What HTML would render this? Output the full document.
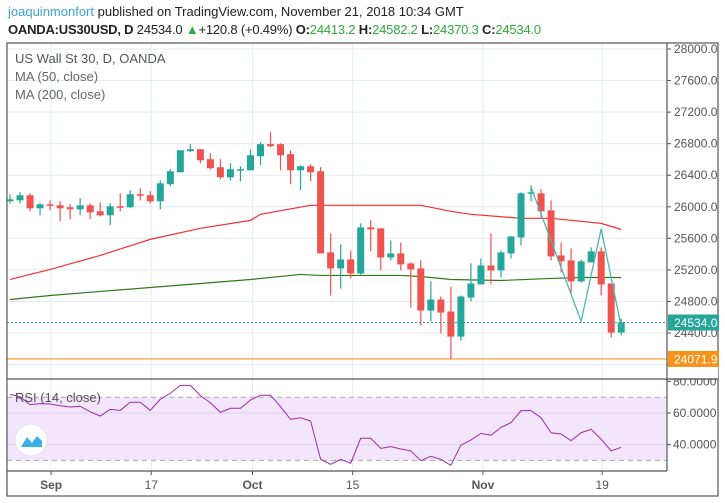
<!DOCTYPE html>
<html><head><meta charset="utf-8">
<style>
body{margin:0;background:#fff;font-family:"Liberation Sans",sans-serif;}
#wrap{position:relative;width:725px;height:503px;overflow:hidden;}
.h{position:absolute;left:8px;font-size:13px;white-space:nowrap;color:#222;}
</style></head><body>
<div id="wrap">
<div class="h" style="top:4px"><span style="color:#3ba3dc">joaquinmonfort</span> published on TradingView.com, November 21, 2018 10:34 GMT</div>
<div class="h" style="top:22px;font-weight:bold;letter-spacing:-0.2px">OANDA:US30USD, D <span style="font-weight:normal">24534.0</span> <span style="color:#2ea93a">▲</span><span style="font-weight:normal">+120.8 (+0.49%)</span> O:<span style="color:#2ea93a;font-weight:normal">24413.2</span> H:<span style="color:#2ea93a;font-weight:normal">24582.2</span> L:<span style="color:#2ea93a;font-weight:normal">24370.3</span> C:<span style="color:#2ea93a;font-weight:normal">24534.0</span></div>
<svg id="svg" width="725" height="503" style="position:absolute;left:0;top:0"></svg>
</div>
<script>
const opens=[26070,26082,26146,25981,26032,26020,25994,25968,26019,25943,25892,26006,25994,26159,26146,26070,26286,26438,26705,26730,26603,26501,26374,26463,26463,26641,26794,26794,26667,26463,26514,26451,25422,25219,25333,25155,25739,25727,25358,25409,25282,25219,24685,24825,24673,24355,24850,25016,25257,25193,25409,25612,26171,26171,25955,25384,25320,25054,25295,25435,25028,24406];
const highs=[26159,26184,26171,26044,26082,26070,26032,26108,26044,26057,26044,26171,26210,26235,26197,26336,26476,26717,26794,26730,26679,26603,26552,26514,26730,26819,26946,26806,26717,26527,26540,26502,25663,25523,25447,25790,25828,25727,25574,25549,25295,25320,25054,24863,24990,24876,25282,25346,25663,25447,25625,26184,26273,26222,26082,25549,25473,25333,25485,25485,25028,24582];
const lows=[26044,26044,25943,25892,25955,25816,25841,25892,25841,25879,25765,25943,25981,26082,26044,25968,26260,26438,26692,26552,26476,26349,26336,26324,26463,26527,26755,26463,26286,26210,26324,25409,24876,24965,25092,25142,25435,25193,25320,25193,24723,24495,24546,24393,24063,24304,24800,25016,25016,25104,25346,25511,26070,25866,25320,25168,24914,25041,25295,24876,24342,24370];
const closes=[26095,26146,25981,26032,26020,25981,25968,26019,25930,25892,26006,25994,26159,26146,26070,26298,26451,26717,26730,26590,26489,26374,26476,26476,26654,26794,26768,26654,26463,26514,26438,25409,25219,25333,25155,25739,25714,25358,25409,25270,25206,24685,24825,24660,24355,24863,25028,25257,25193,25422,25625,26171,26184,25943,25371,25308,25054,25308,25435,25016,24406,24534];
const ma50Idx=[0,4,9,14,19,24,25,30,31,34,41,44,46,51,54,59,61];
const ma50Val=[25079,25206,25384,25587,25727,25828,25905,26019,26019,26019,26019,25943,25905,25854,25854,25790,25714];
const ma200Idx=[0,4,9,14,19,24,29,31,39,41,44,49,54,57,61];
const ma200Val=[24825,24876,24927,24977,25028,25079,25143,25130,25130,25117,25079,25066,25092,25104,25104];
const rsi=[71.8,70.3,65.3,65.9,65.7,64.6,63.8,64.2,60.8,58.1,62.3,61.7,66.8,66.8,61.7,68.7,72.5,77.5,77.5,71.0,66.5,60.4,63.0,63.0,68.2,71.2,71.2,64.0,56.0,57.0,54.9,30.7,27.5,30.7,28.2,44.0,44.0,37.6,38.7,37.2,36.0,29.8,32.6,30.7,26.9,39.7,42.9,47.1,45.9,50.9,53.9,61.5,61.5,57.0,47.5,46.7,42.5,47.5,49.7,43.4,36.0,38.3];
const priceTicks=[28000,27600,27200,26800,26400,26000,25600,25200,24800,24400,24000];
const rsiTicks=[80,60,40];
const timeLabels=["Sep","17","Oct","15","Nov","19"];
const timeIdx=[4.1,14.1,24.2,34.2,47.2,59.1];
const trendIdx=[52,57,59,61];
const trendVal=[26250,24550,25720,24480];
const lastPrice=24534.0, lowLine=24071.9;

const svg=document.getElementById('svg');
const NS='http://www.w3.org/2000/svg';
function mk(t,a,p){const e=document.createElementNS(NS,t);for(const k in a)e.setAttribute(k,a[k]);(p||svg).appendChild(e);return e;}
const X=i=>10+i*10.02;
const Y=p=>49+(28000-p)*0.0789;
const RY=v=>413-(v-60)*1.58;
const L=7,R=667,T=43,MB=379,RB=471,OB=496;

// grids
const g=mk('g',{});
priceTicks.forEach(p=>{const y=Y(p);if(y<MB)mk('line',{x1:L,x2:R,y1:y,y2:y,stroke:'#e3ebf2','stroke-width':1},g);});
timeIdx.forEach(i=>{mk('line',{x1:X(i),x2:X(i),y1:T,y2:RB,stroke:'#e3ebf2','stroke-width':1},g);});
// rsi band
const band=mk('rect',{x:L,y:RY(70),width:R-L,height:RY(30)-RY(70),fill:'#f3e5fb'});

[60,40].forEach(v=>mk('line',{x1:L,x2:R,y1:RY(v),y2:RY(v),stroke:'#dcd3f0'}));
[70,30].forEach(v=>mk('line',{x1:L,x2:R,y1:RY(v),y2:RY(v),stroke:'#aaa','stroke-dasharray':'5,4'}));

// MAs
function poly(idx,vals,color,name,w){const pts=idx.map((i,k)=>X(i)+','+Y(vals[k])).join(' ');const e=mk('polyline',{points:pts,fill:'none',stroke:color,'stroke-width':w||1.2});}
poly(ma200Idx,ma200Val,'#2f7a1a','ma-200-line');
poly(ma50Idx,ma50Val,'#f23030','ma-50-line');

// candles
const cg=mk('g',{});
opens.forEach((o,i)=>{const c=closes[i];const col=c>=o?'#26a69a':'#ef5350';const x=X(i);
 const w=mk('line',{x1:x,x2:x,y1:Y(highs[i]),y2:Y(lows[i]),stroke:col,'stroke-width':1.2},cg);
 
 const top=Y(Math.max(o,c)),h=Math.max(1.5,Math.abs(Y(o)-Y(c)));
 const b=mk('rect',{x:x-3.5,y:top,width:7,height:h,fill:col},cg);
 
});
poly(trendIdx,trendVal,'#4db6ac','trend-drawing',1.3);

// horizontal lines
const ly=Y(lastPrice);
const dl=mk('line',{x1:L,x2:R,y1:ly,y2:ly,stroke:'#26a69a','stroke-dasharray':'2,2'});

const oy=Y(lowLine);
const ol=mk('line',{x1:L,x2:R,y1:oy,y2:oy,stroke:'#f7931a','stroke-width':1.2});


// rsi line
const rl=mk('polyline',{points:rsi.map((v,i)=>X(i)+','+RY(v)).join(' '),fill:'none',stroke:'#9c27b0','stroke-width':1});


// frame
mk('rect',{x:L,y:T,width:718-L,height:OB-T,fill:'none',stroke:'#555','stroke-width':1.2});
mk('line',{x1:R,x2:R,y1:T,y2:RB,stroke:'#555','stroke-width':1.2});
mk('line',{x1:L,x2:718,y1:MB,y2:MB,stroke:'#555','stroke-width':1.2});
mk('line',{x1:L,x2:R,y1:RB,y2:RB,stroke:'#555','stroke-width':1.2});

// axis labels
priceTicks.forEach(p=>{const y=Y(p);mk('line',{x1:R,x2:R+4,y1:y,y2:y,stroke:'#555'});
 const t=mk('text',{x:674,y:y+4,'font-size':12,fill:'#555'});t.textContent=p.toFixed(1);
 });
rsiTicks.forEach(v=>{const y=RY(v);mk('line',{x1:R,x2:R+4,y1:y,y2:y,stroke:'#555'});
 const t=mk('text',{x:673,y:y+4,'font-size':12,fill:'#555'});t.textContent=v.toFixed(4);
 });
// cover top of rsi labels that overflow
mk('rect',{x:R+1,y:MB-12,width:50,height:11.4,fill:'#fff'});
mk('line',{x1:R,x2:718,y1:MB,y2:MB,stroke:'#555','stroke-width':1.2});
timeLabels.forEach((s,k)=>{const x=X(timeIdx[k]);mk('line',{x1:x,x2:x,y1:RB,y2:RB+4,stroke:'#555'});
 const t=mk('text',{x:x,y:RB+18,'font-size':12,fill:'#555','text-anchor':'middle','font-weight':(isNaN(s)?'bold':'normal')});t.textContent=s;
 });

// price badges
function badge(p,col,name){const y=Y(p);const r=mk('rect',{x:R+1,y:y-8,width:51,height:16,fill:col});
 const t=mk('text',{x:674,y:y+4.5,'font-size':12,fill:'#fff'});t.textContent=p.toFixed(1);}
badge(lowLine,'#f7931a','low-line-badge');
badge(lastPrice,'#26a69a','last-price-badge');

// legends
function txt(s,x,y,sz,col,w,name){const t=mk('text',{x:x,y:y,'font-size':sz,fill:col,'font-weight':w||'normal'});t.textContent=s;}
txt('US Wall St 30, D, OANDA',15,63,13,'#555','normal','chart-title');
txt('MA (50, close)',15,81,13,'#666','normal','ma50-legend');
txt('MA (200, close)',15,99,13,'#666','normal','ma200-legend');
txt('RSI (14, close)',15,402,13,'#555','normal','rsi-legend');
// logo
const lg=mk('g',{});
mk('circle',{cx:31,cy:440,r:16,fill:'#fff',stroke:'#e0e0ee'},lg);
mk('path',{d:'M21 447 L27 437 L32 443 L37 436 L42 441 L42 447 Z',fill:'#3aaee8'},lg);
</script>
</body></html>
